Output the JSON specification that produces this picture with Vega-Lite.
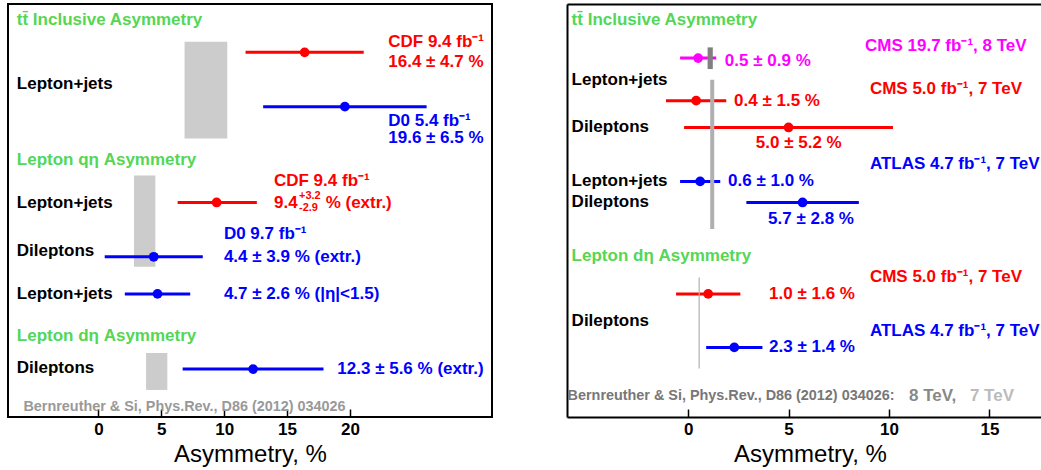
{
  "$schema": "https://vega.github.io/schema/vega-lite/v6.json",
  "padding": {"left": 7, "top": 3, "right": 0, "bottom": 0},
  "autosize": {"type": "pad"},
  "bounds": "flush",
  "spacing": 75,
  "config": {
    "font": "Liberation Sans",
    "view": {"stroke": null},
    "axis": {
      "labelFont": "Liberation Sans", "labelFontSize": 17, "labelFontWeight": "bold", "labelColor": "#000000",
      "tickColor": "#000000", "tickSize": -8, "tickWidth": 1.5, "labelPadding": 12,
      "titleFont": "Liberation Sans", "titleFontSize": 24, "titleFontWeight": "normal", "titleColor": "#000000", "titlePadding": 5,
      "grid": false, "domainColor": "#000000", "domainWidth": 2
    },
    "text": {"font": "Liberation Sans", "fontWeight": "bold", "align": "left", "baseline": "middle"}
  },
  "datasets": {
    "lbands": [
      {"lo": 6.85, "hi": 10.25, "top": 1.83, "bot": 6.51, "c": "band"},
      {"lo": 2.83, "hi": 4.53, "top": 8.31, "bot": 12.72, "c": "band"},
      {"lo": 3.79, "hi": 5.48, "top": 16.90, "bot": 18.69, "c": "band"}
    ],
    "lpts": [
      {"c": "CDF", "v": 16.4, "lo": 11.7, "hi": 21.1, "y": 2.34},
      {"c": "D0", "v": 19.6, "lo": 13.1, "hi": 26.1, "y": 4.97},
      {"c": "CDF", "v": 9.4, "lo": 6.3, "hi": 12.6, "y": 9.61},
      {"c": "D0", "v": 4.4, "lo": 0.5, "hi": 8.3, "y": 12.24},
      {"c": "D0", "v": 4.7, "lo": 2.1, "hi": 7.3, "y": 14.04},
      {"c": "D0", "v": 12.3, "lo": 6.7, "hi": 17.9, "y": 17.68}
    ],
    "ltext": [
      {"t": "tt̄ Inclusive Asymmetry", "c": "title", "x": -6.49, "y": 0.77},
      {"t": "Lepton+jets", "c": "label", "x": -6.49, "y": 3.87},
      {"t": "CDF 9.4 fb⁻¹", "c": "CDF", "x": 23.05, "y": 1.86},
      {"t": "16.4 ± 4.7 %", "c": "CDF", "x": 23.05, "y": 2.79},
      {"t": "D0 5.4 fb⁻¹", "c": "D0", "x": 23.05, "y": 5.68},
      {"t": "19.6 ± 6.5 %", "c": "D0", "x": 23.05, "y": 6.49},
      {"t": "Lepton qη Asymmetry", "c": "title", "x": -6.49, "y": 7.54},
      {"t": "Lepton+jets", "c": "label", "x": -6.49, "y": 9.62},
      {"t": "CDF 9.4 fb⁻¹", "c": "CDF", "x": 13.96, "y": 8.56},
      {"t": "9.4", "c": "CDF", "x": 13.96, "y": 9.64},
      {"t": "% (extr.)", "c": "CDF", "x": 18.07, "y": 9.64},
      {"t": "Dileptons", "c": "label", "x": -6.49, "y": 11.95},
      {"t": "D0 9.7 fb⁻¹", "c": "D0", "x": 9.98, "y": 11.14},
      {"t": "4.4 ± 3.9 % (extr.)", "c": "D0", "x": 9.98, "y": 12.24},
      {"t": "Lepton+jets", "c": "label", "x": -6.49, "y": 14.03},
      {"t": "4.7 ± 2.6 % (|η|<1.5)", "c": "D0", "x": 9.98, "y": 14.04},
      {"t": "Lepton dη Asymmetry", "c": "title", "x": -6.49, "y": 16.06},
      {"t": "Dileptons", "c": "label", "x": -6.49, "y": 17.65},
      {"t": "12.3 ± 5.6 % (extr.)", "c": "D0", "x": 19.0, "y": 17.66}
    ],
    "lsmall": [
      {"t": "+3.2", "c": "CDF", "x": 15.95, "y": 9.28},
      {"t": "-2.9", "c": "CDF", "x": 15.95, "y": 9.88}
    ],
    "lref": [
      {"t": "Bernreuther & Si, Phys.Rev., D86 (2012) 034026", "c": "refL", "x": -5.96, "y": 19.53}
    ],
    "rtheory": [
      {"lo": 0.97, "hi": 1.23, "top": 2.10, "bot": 3.15, "c": "th8"},
      {"lo": 1.10, "hi": 1.30, "top": 3.67, "bot": 10.90, "c": "th7"},
      {"lo": 0.52, "hi": 0.58, "top": 13.24, "bot": 17.65, "c": "th7"}
    ],
    "rpts": [
      {"c": "CMS8", "v": 0.5, "lo": -0.4, "hi": 1.4, "y": 2.62},
      {"c": "CMS7", "v": 0.4, "lo": -1.1, "hi": 1.9, "y": 4.68},
      {"c": "CMS7", "v": 5.0, "lo": -0.2, "hi": 10.2, "y": 5.98},
      {"c": "ATLAS", "v": 0.6, "lo": -0.4, "hi": 1.6, "y": 8.59},
      {"c": "ATLAS", "v": 5.7, "lo": 2.9, "hi": 8.5, "y": 9.61},
      {"c": "CMS7", "v": 1.0, "lo": -0.6, "hi": 2.6, "y": 14.04},
      {"c": "ATLAS", "v": 2.3, "lo": 0.9, "hi": 3.7, "y": 16.63}
    ],
    "rtext": [
      {"t": "tt̄ Inclusive Asymmetry", "c": "title", "x": -5.80, "y": 0.77},
      {"t": "CMS 19.7 fb⁻¹, 8 TeV", "c": "CMS8", "x": 8.81, "y": 2.02},
      {"t": "0.5 ± 0.9 %", "c": "CMS8", "x": 1.83, "y": 2.75},
      {"t": "Lepton+jets", "c": "label", "x": -5.80, "y": 3.67},
      {"t": "CMS 5.0 fb⁻¹, 7 TeV", "c": "CMS7", "x": 9.05, "y": 4.12},
      {"t": "0.4 ± 1.5 %", "c": "CMS7", "x": 2.29, "y": 4.68},
      {"t": "Dileptons", "c": "label", "x": -5.80, "y": 5.98},
      {"t": "5.0 ± 5.2 %", "c": "CMS7", "x": 3.37, "y": 6.75},
      {"t": "ATLAS 4.7 fb⁻¹, 7 TeV", "c": "ATLAS", "x": 9.05, "y": 7.75},
      {"t": "Lepton+jets", "c": "label", "x": -5.80, "y": 8.56},
      {"t": "0.6 ± 1.0 %", "c": "ATLAS", "x": 1.99, "y": 8.56},
      {"t": "Dileptons", "c": "label", "x": -5.80, "y": 9.61},
      {"t": "5.7 ± 2.8 %", "c": "ATLAS", "x": 3.98, "y": 10.41},
      {"t": "Lepton  dη Asymmetry", "c": "title", "x": -5.80, "y": 12.19},
      {"t": "CMS 5.0 fb⁻¹, 7 TeV", "c": "CMS7", "x": 9.05, "y": 13.21},
      {"t": "1.0 ± 1.6 %", "c": "CMS7", "x": 4.03, "y": 14.04},
      {"t": "Dileptons", "c": "label", "x": -5.80, "y": 15.34},
      {"t": "ATLAS 4.7 fb⁻¹, 7 TeV", "c": "ATLAS", "x": 9.05, "y": 15.85},
      {"t": "2.3 ± 1.4 %", "c": "ATLAS", "x": 4.03, "y": 16.63},
      {"t": "8 TeV,", "c": "th8txt", "x": 11.0, "y": 19.0},
      {"t": "7 TeV", "c": "th7txt", "x": 14.03, "y": 19.0}
    ],
    "rref": [
      {"t": "Bernreuther & Si, Phys.Rev., D86 (2012) 034026:", "c": "refR", "x": -6.0, "y": 19.0}
    ]
  },
  "hconcat": [
    {
      "width": 484,
      "height": 413,
      "view": {"stroke": "#000000", "strokeWidth": 2},
      "layer": [
        {
          "data": {"name": "lbands"},
          "mark": {"type": "rect"},
          "encoding": {
            "x": {"field": "lo", "type": "quantitative", "scale": {"domain": [-7.19, 31.3], "nice": false, "zero": false},
                  "axis": {"values": [0, 5, 10, 15, 20], "domain": false, "title": "Asymmetry, %"}},
            "x2": {"field": "hi"},
            "y": {"field": "top", "type": "quantitative", "scale": {"domain": [0, 20], "reverse": true, "nice": false, "zero": false}, "axis": null},
            "y2": {"field": "bot"},
            "color": {"field": "c", "type": "nominal", "legend": null,
              "scale": {"domain": ["title","label","CDF","D0","CMS8","CMS7","ATLAS","refL","refR","th8txt","th7txt","band","th8","th7"],
                        "range": ["#55d655","#000000","#ff0000","#0000ff","#ff00ff","#ff0000","#0000ff","#999999","#777777","#888888","#bbbbbb","#cccccc","#808080","#b0b0b0"]}}
          }
        },
        {
          "data": {"name": "lpts"},
          "mark": {"type": "rule", "strokeWidth": 3},
          "encoding": {
            "x": {"field": "lo", "type": "quantitative"},
            "x2": {"field": "hi"},
            "y": {"field": "y", "type": "quantitative"},
            "color": {"field": "c", "type": "nominal", "legend": null}
          }
        },
        {
          "data": {"name": "lpts"},
          "mark": {"type": "circle", "size": 95, "opacity": 1},
          "encoding": {
            "x": {"field": "v", "type": "quantitative"},
            "y": {"field": "y", "type": "quantitative"},
            "color": {"field": "c", "type": "nominal", "legend": null}
          }
        },
        {
          "data": {"name": "ltext"},
          "mark": {"type": "text", "fontSize": 17},
          "encoding": {
            "x": {"field": "x", "type": "quantitative"},
            "y": {"field": "y", "type": "quantitative"},
            "text": {"field": "t"},
            "color": {"field": "c", "type": "nominal", "legend": null}
          }
        },
        {
          "data": {"name": "lsmall"},
          "mark": {"type": "text", "fontSize": 11},
          "encoding": {
            "x": {"field": "x", "type": "quantitative"},
            "y": {"field": "y", "type": "quantitative"},
            "text": {"field": "t"},
            "color": {"field": "c", "type": "nominal", "legend": null}
          }
        },
        {
          "data": {"name": "lref"},
          "mark": {"type": "text", "fontSize": 14.4},
          "encoding": {
            "x": {"field": "x", "type": "quantitative"},
            "y": {"field": "y", "type": "quantitative"},
            "text": {"field": "t"},
            "color": {"field": "c", "type": "nominal", "legend": null}
          }
        }
      ]
    },
    {
      "width": 474,
      "height": 413,
      "view": {"stroke": null},
      "resolve": {"axis": {"x": "independent"}},
      "layer": [
        {
          "data": {"name": "rpts"},
          "mark": {"type": "rule", "strokeWidth": 3},
          "encoding": {
            "x": {"field": "lo", "type": "quantitative", "scale": {"domain": [-6.03, 17.57], "nice": false, "zero": false},
                  "axis": {"values": [0, 5, 10, 15], "title": "Asymmetry, %", "titleX": 243}},
            "x2": {"field": "hi"},
            "y": {"field": "y", "type": "quantitative", "scale": {"domain": [0, 20], "reverse": true, "nice": false, "zero": false},
                  "axis": {"orient": "left", "domain": true, "ticks": false, "labels": false, "title": null}},
            "color": {"field": "c", "type": "nominal", "legend": null,
              "scale": {"domain": ["title","label","CDF","D0","CMS8","CMS7","ATLAS","refL","refR","th8txt","th7txt","band","th8","th7"],
                        "range": ["#55d655","#000000","#ff0000","#0000ff","#ff00ff","#ff0000","#0000ff","#999999","#777777","#888888","#bbbbbb","#cccccc","#808080","#b0b0b0"]}}
          }
        },
        {
          "data": {"name": "rtheory"},
          "mark": {"type": "rect"},
          "encoding": {
            "x": {"field": "lo", "type": "quantitative", "axis": {"orient": "top", "labels": false, "ticks": false, "title": null, "domain": true}},
            "x2": {"field": "hi"},
            "y": {"field": "top", "type": "quantitative"},
            "y2": {"field": "bot"},
            "color": {"field": "c", "type": "nominal", "legend": null}
          }
        },
        {
          "data": {"name": "rpts"},
          "mark": {"type": "circle", "size": 95, "opacity": 1},
          "encoding": {
            "x": {"field": "v", "type": "quantitative", "axis": null},
            "y": {"field": "y", "type": "quantitative"},
            "color": {"field": "c", "type": "nominal", "legend": null}
          }
        },
        {
          "data": {"name": "rtext"},
          "mark": {"type": "text", "fontSize": 17},
          "encoding": {
            "x": {"field": "x", "type": "quantitative", "axis": null},
            "y": {"field": "y", "type": "quantitative"},
            "text": {"field": "t"},
            "color": {"field": "c", "type": "nominal", "legend": null}
          }
        },
        {
          "data": {"name": "rref"},
          "mark": {"type": "text", "fontSize": 14.4},
          "encoding": {
            "x": {"field": "x", "type": "quantitative", "axis": null},
            "y": {"field": "y", "type": "quantitative"},
            "text": {"field": "t"},
            "color": {"field": "c", "type": "nominal", "legend": null}
          }
        }
      ]
    }
  ]
}
